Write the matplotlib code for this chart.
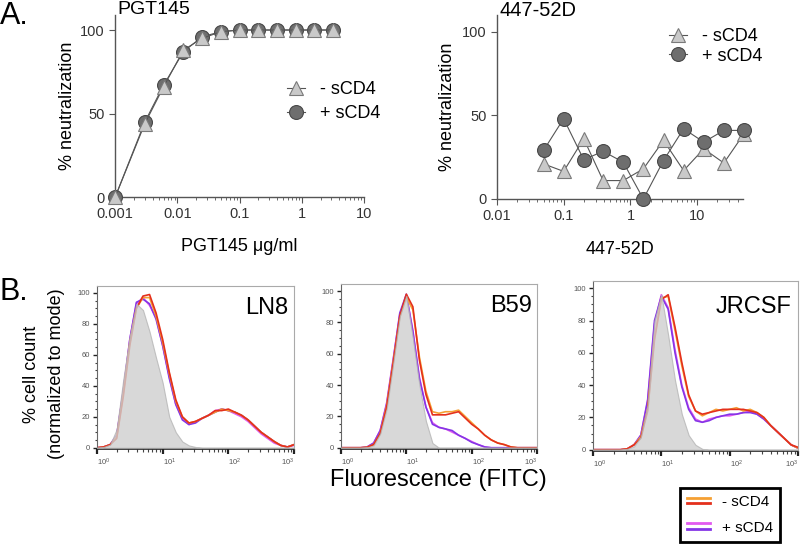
import matplotlib
matplotlib.use('Agg')
import matplotlib.pyplot as plt
import numpy as np
from matplotlib.lines import Line2D
from matplotlib.legend_handler import HandlerBase
from matplotlib.ticker import LogLocator, MultipleLocator, NullFormatter

plt.rcParams['font.family'] = ['Liberation Sans', 'DejaVu Sans']

# --- A. neutralisation ---
pgt_conc = [0.001, 0.003, 0.006, 0.0125, 0.025, 0.05, 0.1, 0.2, 0.4, 0.8, 1.6, 3.2]
pgt_minus = [0, 44, 66, 88, 95, 99, 100, 100, 100, 100, 100, 100]
pgt_plus = [0, 45, 67, 87, 96, 99, 100, 100, 100, 100, 100, 100]

d447_conc = [0.05, 0.1, 0.2, 0.39, 0.78, 1.56, 3.125, 6.25, 12.5, 25, 50]
d447_minus = [21, 16.5, 36, 11, 11, 18, 35, 17, 30, 21.5, 39]
d447_plus = [29, 48, 23.5, 28.5, 22, 0, 23, 42, 34, 41, 41]

# --- B. flow histograms (log10 of fluorescence) ---
fl_log = [0.0, 0.1, 0.2, 0.3, 0.4, 0.5, 0.6, 0.7, 0.8, 0.9, 1.0, 1.1, 1.2, 1.3, 1.4, 1.5,
          1.6, 1.7, 1.8, 1.9, 2.0, 2.1, 2.2, 2.3, 2.4, 2.5, 2.6, 2.7, 2.8, 2.9, 3.0]

ln8_iso = [0, 0.5, 2, 12, 44, 72, 93, 89, 75, 58, 42, 20, 10, 4, 1.5, 0.5,
           0, 0, 0, 0, 0, 0, 0, 0, 0, 0, 0, 0, 0, 0, 0]
ln8_orange = [0, 0.5, 2, 7, 35, 68, 90, 97, 97, 85, 68, 48, 30, 20, 16, 17,
              19, 21, 23, 25, 24, 23, 21, 18, 14, 10, 7, 4, 1.5, 0.5, 2]
ln8_red = [0, 0.5, 2, 6, 33, 66, 90, 98, 99, 87, 70, 49, 31, 20, 16, 17,
           19, 21, 24, 24, 25, 23, 21, 18, 14, 10, 7, 4, 1.5, 0.5, 2]
ln8_magenta = [0, 0.5, 2, 8, 37, 70, 93, 97, 92, 84, 66, 46, 28, 19, 15, 17,
               19, 21, 24, 25, 24, 22, 20, 17, 13, 9, 6, 3, 1.5, 0.5, 1.5]
ln8_purple = [0, 0.5, 2, 8, 36, 70, 94, 96, 93, 83, 66, 45, 28, 18, 15, 16,
              19, 21, 23, 25, 24, 23, 21, 18, 14, 10, 7, 4, 1.5, 0.5, 2]

b59_iso = [0, 0, 0, 0, 0.3, 1.5, 9, 25, 54, 84, 97, 70, 40, 17, 3, 0,
           0, 0, 0, 0, 0, 0, 0, 0, 0, 0, 0, 0, 0, 0, 0]
b59_orange = [0, 0, 0, 0, 0.3, 2, 9, 27, 55, 83, 96, 88, 58, 36, 23, 22,
              23, 23, 24, 20, 16, 12, 8, 5, 3, 2, 0.5, 0, 0, 0, 0]
b59_red = [0, 0, 0, 0, 0.3, 2, 9, 26, 54, 84, 98, 90, 56, 34, 21, 21,
           21, 22, 23, 19, 15, 12, 8, 5, 3, 2, 0.5, 0, 0, 0, 0]
b59_magenta = [0, 0, 0, 0, 0.5, 3, 11, 29, 57, 85, 97, 75, 45, 26, 16, 13,
               12, 10, 8, 6, 4, 2, 0.5, 0, 0, 0, 0, 0, 0, 0, 0]
b59_purple = [0, 0, 0, 0, 0.5, 3, 11, 28, 56, 86, 98, 74, 44, 26, 15, 13,
              12, 11, 8, 6, 3.5, 2, 0.5, 0, 0, 0, 0, 0, 0, 0, 0]

jr_iso = [0, 0, 0, 0, 0, 0.5, 2, 8, 28, 80, 96, 71, 43, 22, 9, 3,
          0.5, 0, 0, 0, 0, 0, 0, 0, 0, 0, 0, 0, 0, 0, 0]
jr_orange = [0, 0, 0, 0, 0, 0.5, 3, 8, 25, 70, 94, 95, 74, 52, 33, 24,
             21, 23, 25, 24, 25, 26, 24, 25, 23, 20, 15, 11, 7, 3, 1]
jr_red = [0, 0, 0, 0, 0, 0.5, 3, 7, 24, 68, 93, 96, 76, 54, 34, 24,
          22, 23, 24, 25, 25, 25, 25, 24, 23, 20, 15, 11, 7, 3, 1.5]
jr_magenta = [0, 0, 0, 0, 0, 0.5, 3, 9, 30, 78, 96, 88, 62, 40, 26, 19,
              17, 19, 20, 21, 21, 22, 23, 24, 22, 19, 15, 11, 7, 3, 1]
jr_purple = [0, 0, 0, 0, 0, 0.5, 3, 9, 31, 80, 95, 87, 60, 39, 25, 18,
             17, 18, 20, 21, 22, 22, 23, 23, 22, 19, 15, 11, 7, 3, 1]

TRI_FACE = '#c9c9c9'
TRI_EDGE = '#7a7a7a'
CIRC_FACE = '#6e6e6e'
CIRC_EDGE = '#474747'
LINE_COL = '#555555'
ORANGE = '#f5a033'
RED = '#e4301c'
MAGENTA = '#e25af0'
PURPLE = '#8536e6'


class DoubleLine(HandlerBase):
    # deux traits superposes pour une entree de legende
    def create_artists(self, legend, orig_handle, xdescent, ydescent, width, height, fontsize, trans):
        l1, l2 = orig_handle
        y1 = 0.8 * height - ydescent
        y2 = 0.3 * height - ydescent
        a = Line2D([-xdescent, width - xdescent], [y1, y1], color=l1.get_color(), lw=2, transform=trans)
        b = Line2D([-xdescent, width - xdescent], [y2, y2], color=l2.get_color(), lw=2, transform=trans)
        return [a, b]


def style_neut(ax, xticks, xlabels, xlim, ylim):
    ax.set_xscale('log')
    ax.set_xlim(xlim)
    ax.set_ylim(ylim)
    ax.spines['top'].set_visible(False)
    ax.spines['right'].set_visible(False)
    for s in ['left', 'bottom']:
        ax.spines[s].set_color('#555555')
        ax.spines[s].set_linewidth(1)
    ax.set_xticks(xticks)
    ax.set_xticklabels(xlabels)
    ax.xaxis.set_minor_locator(LogLocator(base=10, subs=np.arange(2, 10)))
    ax.xaxis.set_minor_formatter(NullFormatter())
    ax.set_yticks([0, 50, 100])
    ax.tick_params(which='major', labelsize=10.5, length=4, color='#555555', labelcolor='#333333')
    ax.tick_params(which='minor', length=2.5, color='#555555')


def plot_neut(ax, x, y_minus, y_plus, tri_on_top):
    z_tri = 4 if tri_on_top else 3
    z_circ = 3 if tri_on_top else 4
    lt, = ax.plot(x, y_minus, '-', color=LINE_COL, lw=0.8, marker='^', ms=10, mfc=TRI_FACE,
                  mec=TRI_EDGE, mew=0.8, clip_on=False, zorder=z_tri, label='- sCD4')
    lc, = ax.plot(x, y_plus, '-', color=LINE_COL, lw=0.8, marker='o', ms=10, mfc=CIRC_FACE,
                  mec=CIRC_EDGE, mew=0.8, clip_on=False, zorder=z_circ, label='+ sCD4')
    return lt, lc


def draw_hist(ax, iso, orange, red, magenta, purple, name, name_pos):
    x = 10 ** np.array(fl_log)
    lines = {}
    lines['magenta'], = ax.plot(x, magenta, color=MAGENTA, lw=1.2, zorder=2)
    lines['purple'], = ax.plot(x, purple, color=PURPLE, lw=1.2, zorder=2)
    lines['orange'], = ax.plot(x, orange, color=ORANGE, lw=1.2, zorder=2)
    lines['red'], = ax.plot(x, red, color=RED, lw=1.2, zorder=2)
    ax.fill_between(x, 0, iso, facecolor='#cfcfcf', edgecolor='#b5b5b5', lw=0.8, alpha=0.8, zorder=3)
    ax.set_xscale('log')
    ax.set_xlim(1, 1000)
    ax.set_ylim(-0.8, 104.5)
    ax.set_yticks([0, 20, 40, 60, 80, 100])
    ax.yaxis.set_minor_locator(MultipleLocator(5))
    ax.set_xticks([1, 10, 100, 1000])
    ax.xaxis.set_minor_locator(LogLocator(base=10, subs=np.arange(2, 10), numticks=20))
    ax.xaxis.set_minor_formatter(NullFormatter())
    ax.tick_params(which='major', labelsize=5.5, length=3, width=1, color='#222222', labelcolor='#555555', pad=2)
    ax.tick_params(which='minor', length=1.8, width=0.8, color='#444444')
    ax.tick_params(axis='x', which='major', width=1.6, length=3.5)
    labs = ax.get_xticklabels()
    for lab in labs[:-1]:
        lab.set_ha('left')
    labs[-1].set_ha('right')
    for s in ['top', 'right']:
        ax.spines[s].set_color('#aaaaaa')
        ax.spines[s].set_linewidth(0.8)
    ax.spines['left'].set_color('#666666')
    ax.spines['left'].set_linewidth(0.8)
    ax.spines['bottom'].set_color('#222222')
    ax.spines['bottom'].set_linewidth(1.2)
    ax.text(name_pos[0], name_pos[1], name, transform=ax.transAxes, ha='right', va='top', fontsize=17)
    return lines


fig = plt.figure(figsize=(8, 5.45), dpi=100)

# A gauche : PGT145
ax1 = fig.add_axes([0.144, 0.6385, 0.311, 0.334])
style_neut(ax1, [0.001, 0.01, 0.1, 1, 10], ['0.001', '0.01', '0.1', '1', '10'], (0.001, 10), (0, 109))
lt, lc = plot_neut(ax1, pgt_conc, pgt_minus, pgt_plus, True)
ax1.set_ylabel('% neutralization', fontsize=13, labelpad=3)
ax1.set_xlabel('PGT145 \u03bcg/ml', fontsize=13, labelpad=12)
ax1.legend(handles=[lt, lc], loc='center left', bbox_to_anchor=(0.655, 0.525), frameon=False,
           fontsize=13, handlelength=1.0, handletextpad=0.8, labelspacing=0.4, borderpad=0)

# A droite : 447-52D
ax2 = fig.add_axes([0.621, 0.6349, 0.3075, 0.3376])
style_neut(ax2, [0.01, 0.1, 1, 10], ['0.01', '0.1', '1', '10'], (0.01, 48), (0, 110))
lt2, lc2 = plot_neut(ax2, d447_conc, d447_minus, d447_plus, False)
ax2.set_ylabel('% neutralization', fontsize=13, labelpad=4)
ax2.set_xlabel('447-52D', fontsize=13, labelpad=13)
ax2.legend(handles=[lt2, lc2], loc='center left', bbox_to_anchor=(0.665, 0.83), frameon=False,
           fontsize=13, handlelength=1.0, handletextpad=0.8, labelspacing=0.15, borderpad=0)

fig.text(117 / 800, 1 - 10 / 545, 'PGT145', fontsize=14, va='center', ha='left')
fig.text(500 / 800, 1 - 11 / 545, '447-52D', fontsize=14.5, va='center', ha='left')
fig.text(0.0, 1 - 16 / 545, 'A.', fontsize=22, va='center', ha='left')

# B : histogrammes
axb1 = fig.add_axes([97 / 800, 1 - 449 / 545, 197 / 800, 163 / 545])
hl = draw_hist(axb1, ln8_iso, ln8_orange, ln8_red, ln8_magenta, ln8_purple, 'LN8', (0.97, 0.93))
axb2 = fig.add_axes([341 / 800, 1 - 449 / 545, 196 / 800, 165 / 545])
draw_hist(axb2, b59_iso, b59_orange, b59_red, b59_magenta, b59_purple, 'B59', (0.975, 0.935))
axb3 = fig.add_axes([593 / 800, 1 - 451 / 545, 205 / 800, 170 / 545])
draw_hist(axb3, jr_iso, jr_orange, jr_red, jr_magenta, jr_purple, 'JRCSF', (0.97, 0.91))

fig.text(0.0, 1 - 292 / 545, 'B.', fontsize=22, va='center', ha='left')
fig.text(31 / 800, 1 - 374 / 545, '% cell count', rotation=90, ha='center', va='center', fontsize=13)
fig.text(57 / 800, 1 - 374 / 545, '(normalized to mode)', rotation=90, ha='center', va='center', fontsize=13)
fig.text(438 / 800, 1 - 480 / 545, 'Fluorescence (FITC)', fontsize=17, ha='center', va='center')

leg = fig.legend(handles=[(hl['orange'], hl['red']), (hl['magenta'], hl['purple'])],
                 labels=['- sCD4', '+ sCD4'], handler_map={tuple: DoubleLine()},
                 loc='center', bbox_to_anchor=(730 / 800, 1 - 515 / 545), frameon=True, fancybox=False,
                 edgecolor='black', framealpha=1, fontsize=11, handlelength=1.5, handletextpad=0.8,
                 labelspacing=0.75, borderpad=0.45)
leg.get_frame().set_linewidth(2)

fig.savefig('out.png', dpi=100)
